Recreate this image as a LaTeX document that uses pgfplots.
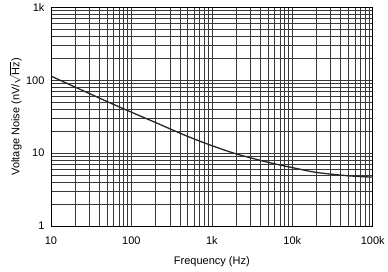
\documentclass[border=0pt]{standalone}
\usepackage{pgfplots}
\pgfplotsset{compat=1.18}
\usepackage{amsmath}
\usepackage{fontspec}
\setmainfont{Liberation Sans}
\begin{document}
\begin{tikzpicture}
\begin{axis}[
  at={(0,0)}, anchor=south west,
  scale only axis,
  width=322bp, height=219bp,
  xmode=log, ymode=log,
  xmin=10, xmax=100000, ymin=1, ymax=1000,
  xtick={10,100,1000,10000,100000},
  xticklabels={10,100,1k,10k,100k},
  ytick={1,10,100,1000},
  yticklabels={1,10,100,1k},
  grid=both,
  major grid style={color=black!78, line width=0.6bp},
  minor grid style={color=black!78, line width=0.6bp},
  major tick length=0pt, minor tick length=0pt,
  axis line style={line width=0.9bp, black},
  tick label style={font=\fontsize{11bp}{13bp}\selectfont},
  label style={font=\fontsize{11bp}{13bp}\selectfont},
  xticklabel style={yshift=-7bp},
  yticklabel style={xshift=-3bp},
  xlabel={Frequency (Hz)},
  ylabel={Voltage Noise (nV/\(\sqrt{\text{Hz}}\))},
  xlabel style={yshift=-5bp},
  ylabel style={yshift=-2.5bp},
  /pgf/number format/assume math mode=true,
]
\addplot[black!85, line width=1.3bp, smooth] coordinates {
(10,114) (20,80.5) (50,51) (100,36.5) (200,26.3) (500,17) (1000,12.7)
(2000,9.8) (5000,7.5) (10000,6.35) (20000,5.45) (50000,4.9) (100000,4.7)
};
\end{axis}
\path[use as bounding box] (-51bp,-45bp) rectangle (337bp,223bp);
\end{tikzpicture}
\end{document}
